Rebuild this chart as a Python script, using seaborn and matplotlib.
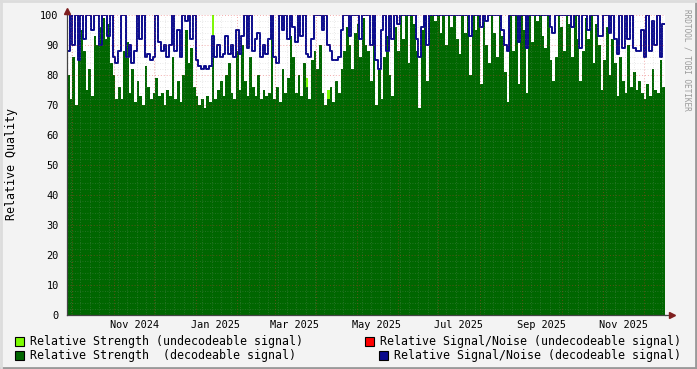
import numpy as np
import pandas as pd
import matplotlib
matplotlib.use("Agg")
import matplotlib.pyplot as plt
import matplotlib.dates as mdates
import matplotlib.ticker as mticker
from matplotlib.patches import Rectangle
from matplotlib.lines import Line2D
import seaborn as sns

# ---------------- data (2-day samples) ----------------
start_date = "2024-09-27"
sample_days = 2

strength_decodeable = [
    80, 72, 86, 70, 92, 95, 88, 75, 82, 73, 93, 90, 96, 99, 92, 97, 84, 80, 72, 76,
    72, 88, 91, 74, 82, 71, 78, 73, 70, 83, 76, 72, 74, 79, 73, 74, 70, 75,
    73, 86, 72, 78, 71, 80, 95, 84, 89, 76, 73, 70, 72, 69, 73, 71, 88, 72, 75, 78,
    73, 80, 84, 74, 72, 88, 75, 90, 78, 73, 86, 76, 73, 80, 72, 75, 73,
    74, 95, 72, 76, 71, 82, 74, 79, 93, 86, 74, 80, 73, 84, 76, 72, 85, 88, 82, 90,
    74, 70, 72, 76, 71, 78, 74, 82, 88, 96, 90, 82, 94, 97, 86, 99, 90,
    88, 78, 92, 70, 82, 72, 86, 93, 80, 73, 96, 88, 100, 92, 100, 84, 100, 97, 88, 69,
    95, 100, 78, 100, 100, 98, 100, 94, 100, 90, 100, 96, 100, 92, 87, 100, 94,
    100, 80, 100, 95, 100, 77, 100, 90, 84, 100, 94, 86, 100, 93, 81, 71, 100, 88, 100, 77,
    100, 95, 74, 100, 91, 100, 98, 100, 93, 89, 100, 85, 78, 86, 100, 96, 88, 100,
    97, 86, 100, 92, 78, 88, 99, 92, 100, 84, 97, 90, 75, 85, 96, 80, 92, 84, 73, 86,
    78, 74, 90, 76, 81, 75, 78, 74, 72, 77, 73, 82, 75, 74, 85, 76,
]

snr_decodeable = [
    88, 100, 90, 100, 85, 100, 92, 100, 100, 95, 100, 100, 90, 100, 100, 93, 100, 86, 84, 88,
    100, 100, 86, 90, 84, 88, 100, 92, 100, 86, 87, 85, 86, 100, 91, 88, 90, 86,
    90, 100, 88, 95, 86, 100, 98, 100, 92, 100, 85, 83, 82, 83, 82, 83, 93, 86, 90, 86,
    87, 93, 87, 90, 86, 95, 87, 93, 100, 89, 100, 88, 92, 94, 86, 90, 87,
    92, 100, 86, 84, 100, 95, 100, 92, 100, 96, 91, 100, 93, 100, 87, 86, 92, 100, 100, 100,
    95, 100, 90, 88, 85, 85, 86, 95, 100, 100, 93, 100, 100, 100, 92, 100, 100,
    100, 90, 100, 85, 82, 95, 100, 88, 100, 92, 100, 97, 100, 100, 100, 100, 100, 100, 92, 86,
    96, 100, 90, 100, 100, 100, 100, 100, 100, 100, 100, 100, 100, 100, 100, 100, 100,
    100, 93, 100, 100, 100, 96, 100, 98, 100, 100, 100, 100, 100, 95, 90, 88, 100, 100, 100, 91,
    100, 100, 89, 100, 100, 100, 100, 100, 100, 100, 100, 96, 94, 100, 100, 100, 100, 100,
    100, 96, 100, 100, 89, 100, 100, 95, 100, 100, 100, 93, 93, 100, 100, 94, 100, 92, 87, 100,
    89, 100, 92, 100, 89, 88, 88, 95, 86, 100, 88, 98, 90, 100, 86, 97,
]

# sparse undecodeable-strength spikes: sample index and value
undecodeable_idx = [19, 54, 89, 97]
undecodeable_val = [75, 100, 79, 75]

month_label_fmt = "%b %Y"
legend_labels = [
    "Relative Strength (undecodeable signal)",
    "Relative Signal/Noise (undecodeable signal)",
    "Relative Strength  (decodeable signal)",
    "Relative Signal/Noise (decodeable signal)",
]

# ---------------- styling ----------------
C_BACK = "#F3F3F3"
C_GREEN = "#006600"
C_LIME = "#7CFC00"
C_RED = "#FF0000"
C_BLUE = "#0A0A8C"
C_ARROW = "#7F1F1F"
MONO = ["DejaVu Sans Mono"]

sns.set_theme(style="white")
plt.rcParams["font.family"] = MONO

W, H = 697, 369
fig = plt.figure(figsize=(W / 100, H / 100), dpi=100, facecolor=C_BACK)
L, R, T, B = 67, 665, 15, 315
ax = fig.add_axes([L / W, (H - B) / H, (R - L) / W, (B - T) / H])
ax.set_facecolor("white")

n = len(strength_decodeable)
dates = pd.date_range(start_date, periods=n, freq=f"{sample_days}D")
dates_ext = dates.append(pd.DatetimeIndex([dates[-1] + pd.Timedelta(days=sample_days)]))

g_ext = np.array(strength_decodeable + [strength_decodeable[-1]], dtype=float)
s_ext = np.array(snr_decodeable + [snr_decodeable[-1]], dtype=float)
lime_full = np.zeros(n + 1)
for i, v in zip(undecodeable_idx, undecodeable_val):
    lime_full[i] = v

ax.fill_between(dates_ext, 0, lime_full, step="post", color=C_LIME, linewidth=0, zorder=1)
ax.fill_between(dates_ext, 0, g_ext, step="post", color=C_GREEN, linewidth=0, zorder=1.2)

df = pd.DataFrame({"date": dates_ext, "snr": s_ext})
sns.lineplot(data=df, x="date", y="snr", ax=ax, color=C_BLUE, linewidth=1.4,
             drawstyle="steps-post", estimator=None, zorder=2)

ax.set_xlim(dates_ext[0], dates_ext[-1])
ax.set_ylim(0, 100)

# grid (drawn over the data, like rrdtool)
ax.yaxis.set_major_locator(mticker.MultipleLocator(10))
ax.yaxis.set_minor_locator(mticker.MultipleLocator(2))
ax.xaxis.set_major_locator(mdates.MonthLocator())
ax.xaxis.set_minor_locator(mdates.WeekdayLocator(byweekday=mdates.MO))
ax.xaxis.set_major_formatter(mticker.NullFormatter())
ax.set_axisbelow(False)
ax.grid(which="minor", color="#A0A0A0", alpha=0.3, linestyle=(0, (1, 2)), linewidth=0.6)
ax.grid(which="major", color="#E03030", alpha=0.4, linestyle=(0, (1, 2)), linewidth=0.7)

ax.set_xlabel("")
ax.set_ylabel("")
for sp in ["top", "right"]:
    ax.spines[sp].set_visible(False)
for sp in ["left", "bottom"]:
    ax.spines[sp].set_color("#444444")
    ax.spines[sp].set_linewidth(0.9)
    ax.spines[sp].set_zorder(5)

ax.tick_params(axis="y", which="major", direction="out", length=4, width=0.8,
               color="#444444", labelsize=7.4, pad=2, labelcolor="#000000")
ax.tick_params(axis="y", which="minor", direction="out", length=2, width=0.6, color="#888888")
ax.tick_params(axis="x", which="major", direction="out", length=3, width=0.8, color="#C04040")
ax.tick_params(axis="x", which="minor", direction="out", length=2, width=0.6, color="#888888")

# month labels centred in mid-month, every 2 months
label_months = pd.date_range("2024-11-01", "2025-11-01", freq="2MS")
for m in label_months:
    ax.text(m + pd.Timedelta(days=15), -0.017, m.strftime(month_label_fmt),
            transform=ax.get_xaxis_transform(), ha="center", va="top",
            fontsize=7.4, color="#000000", family=MONO)

# axis arrows
ax.plot([1.0, 1.012], [0, 0], transform=ax.transAxes, color="#444444", lw=0.9, clip_on=False, zorder=5)
ax.plot([1.012], [0], transform=ax.transAxes, marker=">", color=C_ARROW, markersize=4, clip_on=False, zorder=6)
ax.plot([0, 0], [1.0, 1.012], transform=ax.transAxes, color="#444444", lw=0.9, clip_on=False, zorder=5)
ax.plot([0], [1.014], transform=ax.transAxes, marker="^", color=C_ARROW, markersize=4, clip_on=False, zorder=6)

# y label
fig.text(12 / W, 1 - 164 / H, "Relative Quality", rotation=90, ha="center", va="center",
         fontsize=8.4, family=MONO, color="#000000")
# watermark
fig.text(687 / W, 1 - 60 / H, "RRDTOOL / TOBI OETIKER", rotation=-90, ha="center", va="center",
         fontsize=5.6, family=MONO, color="#9A9A9A")

# legend
legend_colors = [C_LIME, C_RED, C_GREEN, C_BLUE]
legend_pos = [(15, 341), (365, 341), (15, 355), (379, 355)]
for (x, y), col, lab in zip(legend_pos, legend_colors, legend_labels):
    fig.patches.append(Rectangle((x / W, 1 - (y + 4.5) / H), 9 / W, 9 / H,
                                 transform=fig.transFigure, facecolor=col,
                                 edgecolor="black", linewidth=0.8))
    fig.text((x + 15) / W, 1 - y / H, lab, ha="left", va="center",
             fontsize=8.4, family=MONO, color="#000000")

# 3D-ish frame
fig.add_artist(Line2D([0, 1], [1 / H, 1 / H], transform=fig.transFigure, color="#999999", lw=2))
fig.add_artist(Line2D([1 - 1 / W, 1 - 1 / W], [0, 1], transform=fig.transFigure, color="#999999", lw=2))
fig.add_artist(Line2D([0, 1], [1 - 1 / H, 1 - 1 / H], transform=fig.transFigure, color="#DCDCDC", lw=2))
fig.add_artist(Line2D([1 / W, 1 / W], [0, 1], transform=fig.transFigure, color="#DCDCDC", lw=2))

fig.savefig("out.png", dpi=100, facecolor=C_BACK)
